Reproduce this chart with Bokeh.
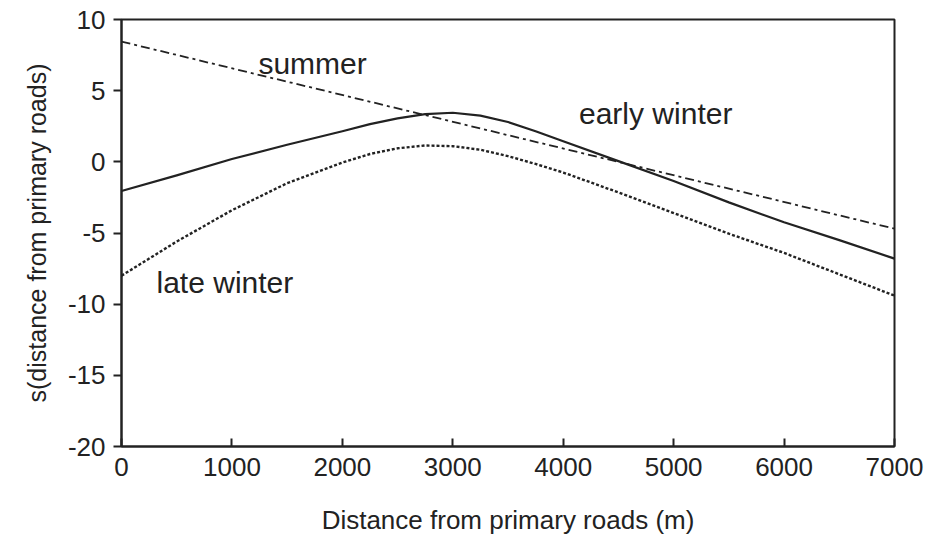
from bokeh.plotting import figure
from bokeh.models import Range1d, FixedTicker, Label, PrintfTickFormatter
from bokeh.embed import file_html
from bokeh.resources import INLINE

dist_early = [0, 500, 1000, 1500, 2000, 2250, 2500, 2750, 3000, 3250, 3500, 3750, 4000, 4500, 5000, 5500, 6000, 6500, 7000]
early_winter = [-2.05, -0.95, 0.2, 1.2, 2.15, 2.65, 3.05, 3.35, 3.45, 3.25, 2.8, 2.15, 1.45, 0.05, -1.35, -2.85, -4.25, -5.5, -6.8]

dist_late = [0, 500, 1000, 1500, 2000, 2250, 2500, 2750, 3000, 3250, 3500, 3750, 4000, 4500, 5000, 5500, 6000, 6500, 7000]
late_winter = [-8.0, -5.6, -3.4, -1.5, -0.05, 0.55, 0.95, 1.15, 1.1, 0.85, 0.4, -0.15, -0.75, -2.15, -3.6, -5.05, -6.4, -7.9, -9.4]

dist_summer = [0, 7000]
summer = [8.45, -4.7]

x_ticks = [0, 1000, 2000, 3000, 4000, 5000, 6000, 7000]
y_ticks = [-20, -15, -10, -5, 0, 5, 10]

labels = ["summer", "early winter", "late winter"]
label_x = [1240, 4143, 317]
label_y = [6.9, 3.37, -8.5]

FONT = "Liberation Sans"
INK = "#222222"

p = figure(width=930, height=538, output_backend="svg", toolbar_location=None,
           x_range=Range1d(0, 7000), y_range=Range1d(-20, 10),
           min_border_left=121, min_border_right=36, min_border_top=19, min_border_bottom=92)

p.xgrid.visible = False
p.ygrid.visible = False
p.outline_line_color = INK
p.outline_line_width = 2
p.outline_line_alpha = 1.0

p.line(dist_summer, summer, line_color=INK, line_width=1.8, line_dash="9 4 3 4")
p.line(dist_early, early_winter, line_color=INK, line_width=2.2, line_join="round")
p.line(dist_late, late_winter, line_color=INK, line_width=2.4, line_dash="3 2", line_join="round")

for t, lx, ly in zip(labels, label_x, label_y):
    p.add_layout(Label(x=lx, y=ly, text=t, text_font=FONT, text_font_size="30px",
                       text_color=INK, text_align="left", text_baseline="alphabetic"))

p.xaxis.ticker = FixedTicker(ticks=x_ticks)
p.yaxis.ticker = FixedTicker(ticks=y_ticks)
p.xaxis.formatter = PrintfTickFormatter(format="%d")
p.yaxis.formatter = PrintfTickFormatter(format="%d")
p.xaxis.axis_label = "Distance from primary roads (m)"
p.yaxis.axis_label = "s(distance from primary roads)"

for ax in (p.xaxis, p.yaxis):
    ax.axis_line_color = INK
    ax.axis_line_width = 2
    ax.major_tick_line_color = INK
    ax.major_tick_line_width = 2
    ax.minor_tick_line_color = None
    ax.major_label_text_font = FONT
    ax.major_label_text_font_size = "26px"
    ax.major_label_text_color = INK
    ax.axis_label_text_font = FONT
    ax.axis_label_text_font_style = "normal"
    ax.axis_label_text_color = INK

p.xaxis.axis_label_text_font_size = "26px"
p.yaxis.axis_label_text_font_size = "25px"

p.xaxis.major_tick_in = 8
p.xaxis.major_tick_out = 0
p.xaxis.major_label_standoff = 11
p.xaxis.axis_label_standoff = 26
p.yaxis.major_tick_in = 0
p.yaxis.major_tick_out = 8
p.yaxis.major_label_standoff = 8
p.yaxis.axis_label_standoff = 14

open("out.html", "w").write(file_html(p, INLINE))
